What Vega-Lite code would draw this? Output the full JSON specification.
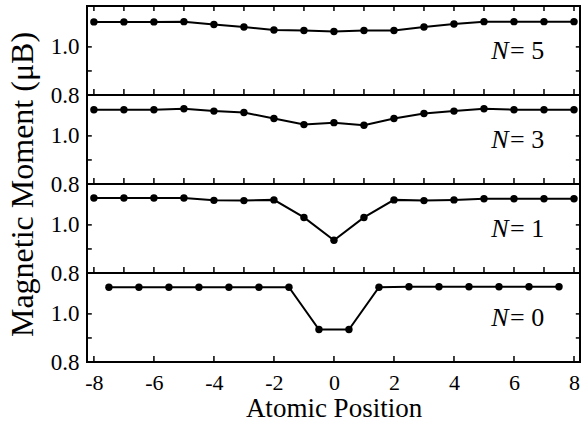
{
  "$schema": "https://vega.github.io/schema/vega-lite/v6.json",
  "padding": {"left": 4, "top": 4, "right": 3, "bottom": 4},
  "config": {
    "font": "Liberation Serif",
    "view": {"stroke": "black", "strokeWidth": 2},
    "axis": {
      "domain": false,
      "grid": false,
      "ticks": true,
      "tickColor": "black",
      "tickWidth": 1.5,
      "labelColor": "black",
      "labelFont": "Liberation Serif",
      "labelFontSize": 23,
      "labelFlush": false,
      "labelOverlap": false,
      "titleFont": "Liberation Serif",
      "titleColor": "black",
      "titleFontWeight": "normal"
    },
    "text": {"font": "Liberation Serif", "fontSize": 26, "color": "black"},
    "rule": {"color": "black", "strokeWidth": 1.5}
  },
  "datasets": {
    "xticks": [{"t": -8}, {"t": -7}, {"t": -6}, {"t": -5}, {"t": -4}, {"t": -3}, {"t": -2}, {"t": -1}, {"t": 0},
               {"t": 1}, {"t": 2}, {"t": 3}, {"t": 4}, {"t": 5}, {"t": 6}, {"t": 7}, {"t": 8}],
    "xmajor": [{"t": -8}, {"t": -6}, {"t": -4}, {"t": -2}, {"t": 0}, {"t": 2}, {"t": 4}, {"t": 6}, {"t": 8}],
    "yticks": [{"v": 0.9}, {"v": 1.0}],
    "moments": [
      {"N": 5, "pos": -8, "m": 1.104}, {"N": 5, "pos": -7, "m": 1.104}, {"N": 5, "pos": -6, "m": 1.104},
      {"N": 5, "pos": -5, "m": 1.105}, {"N": 5, "pos": -4, "m": 1.093}, {"N": 5, "pos": -3, "m": 1.083},
      {"N": 5, "pos": -2, "m": 1.070}, {"N": 5, "pos": -1, "m": 1.068}, {"N": 5, "pos": 0, "m": 1.064},
      {"N": 5, "pos": 1, "m": 1.068}, {"N": 5, "pos": 2, "m": 1.068}, {"N": 5, "pos": 3, "m": 1.083},
      {"N": 5, "pos": 4, "m": 1.095}, {"N": 5, "pos": 5, "m": 1.105}, {"N": 5, "pos": 6, "m": 1.105},
      {"N": 5, "pos": 7, "m": 1.105}, {"N": 5, "pos": 8, "m": 1.105},

      {"N": 3, "pos": -8, "m": 1.109}, {"N": 3, "pos": -7, "m": 1.109}, {"N": 3, "pos": -6, "m": 1.109},
      {"N": 3, "pos": -5, "m": 1.113}, {"N": 3, "pos": -4, "m": 1.103}, {"N": 3, "pos": -3, "m": 1.097},
      {"N": 3, "pos": -2, "m": 1.072}, {"N": 3, "pos": -1, "m": 1.047}, {"N": 3, "pos": 0, "m": 1.055},
      {"N": 3, "pos": 1, "m": 1.044}, {"N": 3, "pos": 2, "m": 1.072}, {"N": 3, "pos": 3, "m": 1.093},
      {"N": 3, "pos": 4, "m": 1.103}, {"N": 3, "pos": 5, "m": 1.113}, {"N": 3, "pos": 6, "m": 1.109},
      {"N": 3, "pos": 7, "m": 1.109}, {"N": 3, "pos": 8, "m": 1.109},

      {"N": 1, "pos": -8, "m": 1.112}, {"N": 1, "pos": -7, "m": 1.112}, {"N": 1, "pos": -6, "m": 1.112},
      {"N": 1, "pos": -5, "m": 1.112}, {"N": 1, "pos": -4, "m": 1.102}, {"N": 1, "pos": -3, "m": 1.101},
      {"N": 1, "pos": -2, "m": 1.104}, {"N": 1, "pos": -1, "m": 1.031}, {"N": 1, "pos": 0, "m": 0.936},
      {"N": 1, "pos": 1, "m": 1.031}, {"N": 1, "pos": 2, "m": 1.104}, {"N": 1, "pos": 3, "m": 1.101},
      {"N": 1, "pos": 4, "m": 1.104}, {"N": 1, "pos": 5, "m": 1.109}, {"N": 1, "pos": 6, "m": 1.109},
      {"N": 1, "pos": 7, "m": 1.109}, {"N": 1, "pos": 8, "m": 1.109},

      {"N": 0, "pos": -7.5, "m": 1.111}, {"N": 0, "pos": -6.5, "m": 1.111}, {"N": 0, "pos": -5.5, "m": 1.111},
      {"N": 0, "pos": -4.5, "m": 1.111}, {"N": 0, "pos": -3.5, "m": 1.111}, {"N": 0, "pos": -2.5, "m": 1.111},
      {"N": 0, "pos": -1.5, "m": 1.111}, {"N": 0, "pos": -0.5, "m": 0.935}, {"N": 0, "pos": 0.5, "m": 0.935},
      {"N": 0, "pos": 1.5, "m": 1.111}, {"N": 0, "pos": 2.5, "m": 1.113}, {"N": 0, "pos": 3.5, "m": 1.113},
      {"N": 0, "pos": 4.5, "m": 1.113}, {"N": 0, "pos": 5.5, "m": 1.113}, {"N": 0, "pos": 6.5, "m": 1.113},
      {"N": 0, "pos": 7.5, "m": 1.113}
    ]
  },
  "data": {"name": "moments"},
  "spacing": 0,
  "bounds": "flush",
  "vconcat": [
    {
      "width": 493, "height": 89,
      "resolve": {"axis": {"x": "independent", "y": "independent"}},
      "layer": [
        {
          "transform": [{"filter": "datum.N == 5"}],
          "mark": {"type": "line", "color": "black", "strokeWidth": 2},
          "encoding": {
            "x": {"field": "pos", "type": "quantitative", "scale": {"domain": [-8.23, 8.2], "nice": false, "zero": false}, "axis": null},
            "y": {"field": "m", "type": "quantitative", "scale": {"domain": [0.8, 1.17], "nice": false, "zero": false},
                  "axis": {"orient": "left", "values": [0.8, 1.0], "format": ".1f", "ticks": false, "labelPadding": 8, "title": null}}
          }
        },
        {
          "transform": [{"filter": "datum.N == 5"}],
          "mark": {"type": "point", "filled": true, "color": "black", "size": 55, "opacity": 1},
          "encoding": {
            "x": {"field": "pos", "type": "quantitative", "axis": null},
            "y": {"field": "m", "type": "quantitative", "axis": null}
          }
        },
        {
          "data": {"name": "xticks"},
          "mark": "rule",
          "encoding": {"x": {"field": "t", "type": "quantitative", "axis": null}, "y": {"datum": 0.8, "axis": null}, "y2": {"datum": 0.825}}
        },
        {
          "data": {"name": "xticks"},
          "mark": "rule",
          "encoding": {"x": {"field": "t", "type": "quantitative", "axis": null}, "y": {"datum": 1.17, "axis": null}, "y2": {"datum": 1.149}}
        },
        {
          "data": {"name": "yticks"},
          "mark": "rule",
          "encoding": {"y": {"field": "v", "type": "quantitative", "axis": null}, "x": {"datum": -8.23, "axis": null}, "x2": {"datum": -8.07}}
        },
        {
          "data": {"name": "yticks"},
          "mark": "rule",
          "encoding": {"y": {"field": "v", "type": "quantitative", "axis": null}, "x": {"datum": 8.2, "axis": null}, "x2": {"datum": 8.06}}
        },
        {
          "transform": [{"filter": "datum.N == 5"}, {"aggregate": [{"op": "count", "as": "n"}]}],
          "mark": {"type": "text", "text": "N", "fontStyle": "italic", "align": "left", "baseline": "alphabetic"},
          "encoding": {"x": {"datum": 5.24, "axis": null}, "y": {"datum": 0.95, "axis": null}}
        },
        {
          "transform": [{"filter": "datum.N == 5"}, {"aggregate": [{"op": "count", "as": "n"}]}],
          "mark": {"type": "text", "text": "= 5", "align": "left", "baseline": "alphabetic"},
          "encoding": {"x": {"datum": 5.87, "axis": null}, "y": {"datum": 0.95, "axis": null}}
        }
      ]
    },
    {
      "width": 493, "height": 89,
      "resolve": {"axis": {"x": "independent", "y": "independent"}},
      "layer": [
        {
          "transform": [{"filter": "datum.N == 3"}],
          "mark": {"type": "line", "color": "black", "strokeWidth": 2},
          "encoding": {
            "x": {"field": "pos", "type": "quantitative", "scale": {"domain": [-8.23, 8.2], "nice": false, "zero": false}, "axis": null},
            "y": {"field": "m", "type": "quantitative", "scale": {"domain": [0.8, 1.17], "nice": false, "zero": false},
                  "axis": {"orient": "left", "values": [0.8, 1.0], "format": ".1f", "ticks": false, "labelPadding": 8,
                           "title": "Magnetic Moment (μB)", "titleFontSize": 32,
                           "titleX": -55, "titleY": 89, "titleAngle": -90, "titleBaseline": "alphabetic", "titleAlign": "center"}}
          }
        },
        {
          "transform": [{"filter": "datum.N == 3"}],
          "mark": {"type": "point", "filled": true, "color": "black", "size": 55, "opacity": 1},
          "encoding": {
            "x": {"field": "pos", "type": "quantitative", "axis": null},
            "y": {"field": "m", "type": "quantitative", "axis": null}
          }
        },
        {
          "data": {"name": "xticks"},
          "mark": "rule",
          "encoding": {"x": {"field": "t", "type": "quantitative", "axis": null}, "y": {"datum": 0.8, "axis": null}, "y2": {"datum": 0.825}}
        },
        {
          "data": {"name": "yticks"},
          "mark": "rule",
          "encoding": {"y": {"field": "v", "type": "quantitative", "axis": null}, "x": {"datum": -8.23, "axis": null}, "x2": {"datum": -8.07}}
        },
        {
          "data": {"name": "yticks"},
          "mark": "rule",
          "encoding": {"y": {"field": "v", "type": "quantitative", "axis": null}, "x": {"datum": 8.2, "axis": null}, "x2": {"datum": 8.06}}
        },
        {
          "transform": [{"filter": "datum.N == 3"}, {"aggregate": [{"op": "count", "as": "n"}]}],
          "mark": {"type": "text", "text": "N", "fontStyle": "italic", "align": "left", "baseline": "alphabetic"},
          "encoding": {"x": {"datum": 5.24, "axis": null}, "y": {"datum": 0.95, "axis": null}}
        },
        {
          "transform": [{"filter": "datum.N == 3"}, {"aggregate": [{"op": "count", "as": "n"}]}],
          "mark": {"type": "text", "text": "= 3", "align": "left", "baseline": "alphabetic"},
          "encoding": {"x": {"datum": 5.87, "axis": null}, "y": {"datum": 0.95, "axis": null}}
        }
      ]
    },
    {
      "width": 493, "height": 89,
      "resolve": {"axis": {"x": "independent", "y": "independent"}},
      "layer": [
        {
          "transform": [{"filter": "datum.N == 1"}],
          "mark": {"type": "line", "color": "black", "strokeWidth": 2},
          "encoding": {
            "x": {"field": "pos", "type": "quantitative", "scale": {"domain": [-8.23, 8.2], "nice": false, "zero": false}, "axis": null},
            "y": {"field": "m", "type": "quantitative", "scale": {"domain": [0.8, 1.17], "nice": false, "zero": false},
                  "axis": {"orient": "left", "values": [0.8, 1.0], "format": ".1f", "ticks": false, "labelPadding": 8, "title": null}}
          }
        },
        {
          "transform": [{"filter": "datum.N == 1"}],
          "mark": {"type": "point", "filled": true, "color": "black", "size": 55, "opacity": 1},
          "encoding": {
            "x": {"field": "pos", "type": "quantitative", "axis": null},
            "y": {"field": "m", "type": "quantitative", "axis": null}
          }
        },
        {
          "data": {"name": "xticks"},
          "mark": "rule",
          "encoding": {"x": {"field": "t", "type": "quantitative", "axis": null}, "y": {"datum": 0.8, "axis": null}, "y2": {"datum": 0.825}}
        },
        {
          "data": {"name": "yticks"},
          "mark": "rule",
          "encoding": {"y": {"field": "v", "type": "quantitative", "axis": null}, "x": {"datum": -8.23, "axis": null}, "x2": {"datum": -8.07}}
        },
        {
          "data": {"name": "yticks"},
          "mark": "rule",
          "encoding": {"y": {"field": "v", "type": "quantitative", "axis": null}, "x": {"datum": 8.2, "axis": null}, "x2": {"datum": 8.06}}
        },
        {
          "transform": [{"filter": "datum.N == 1"}, {"aggregate": [{"op": "count", "as": "n"}]}],
          "mark": {"type": "text", "text": "N", "fontStyle": "italic", "align": "left", "baseline": "alphabetic"},
          "encoding": {"x": {"datum": 5.24, "axis": null}, "y": {"datum": 0.95, "axis": null}}
        },
        {
          "transform": [{"filter": "datum.N == 1"}, {"aggregate": [{"op": "count", "as": "n"}]}],
          "mark": {"type": "text", "text": "= 1", "align": "left", "baseline": "alphabetic"},
          "encoding": {"x": {"datum": 5.87, "axis": null}, "y": {"datum": 0.95, "axis": null}}
        }
      ]
    },
    {
      "width": 493, "height": 89,
      "resolve": {"axis": {"x": "independent", "y": "independent"}},
      "layer": [
        {
          "transform": [{"filter": "datum.N == 0"}],
          "mark": {"type": "line", "color": "black", "strokeWidth": 2},
          "encoding": {
            "x": {"field": "pos", "type": "quantitative", "scale": {"domain": [-8.23, 8.2], "nice": false, "zero": false},
                  "axis": {"orient": "bottom", "values": [-8,-6,-4,-2,0,2,4,6,8],
                           "labelExpr": "toString(datum.value)", "labelFontSize": 22,
                           "ticks": false, "labelPadding": 10,
                           "title": "Atomic Position", "titleFontSize": 27, "titlePadding": 2}},
            "y": {"field": "m", "type": "quantitative", "scale": {"domain": [0.8, 1.17], "nice": false, "zero": false},
                  "axis": {"orient": "left", "values": [0.8, 1.0], "format": ".1f", "ticks": false, "labelPadding": 8, "title": null}}
          }
        },
        {
          "transform": [{"filter": "datum.N == 0"}],
          "mark": {"type": "point", "filled": true, "color": "black", "size": 55, "opacity": 1},
          "encoding": {
            "x": {"field": "pos", "type": "quantitative", "axis": null},
            "y": {"field": "m", "type": "quantitative", "axis": null}
          }
        },
        {
          "data": {"name": "xmajor"},
          "mark": "rule",
          "encoding": {"x": {"field": "t", "type": "quantitative", "axis": null}, "y": {"datum": 0.8, "axis": null}, "y2": {"datum": 0.825}}
        },
        {
          "data": {"name": "yticks"},
          "mark": "rule",
          "encoding": {"y": {"field": "v", "type": "quantitative", "axis": null}, "x": {"datum": -8.23, "axis": null}, "x2": {"datum": -8.07}}
        },
        {
          "data": {"name": "yticks"},
          "mark": "rule",
          "encoding": {"y": {"field": "v", "type": "quantitative", "axis": null}, "x": {"datum": 8.2, "axis": null}, "x2": {"datum": 8.06}}
        },
        {
          "transform": [{"filter": "datum.N == 0"}, {"aggregate": [{"op": "count", "as": "n"}]}],
          "mark": {"type": "text", "text": "N", "fontStyle": "italic", "align": "left", "baseline": "alphabetic"},
          "encoding": {"x": {"datum": 5.24, "axis": null}, "y": {"datum": 0.95, "axis": null}}
        },
        {
          "transform": [{"filter": "datum.N == 0"}, {"aggregate": [{"op": "count", "as": "n"}]}],
          "mark": {"type": "text", "text": "= 0", "align": "left", "baseline": "alphabetic"},
          "encoding": {"x": {"datum": 5.87, "axis": null}, "y": {"datum": 0.95, "axis": null}}
        }
      ]
    }
  ]
}
